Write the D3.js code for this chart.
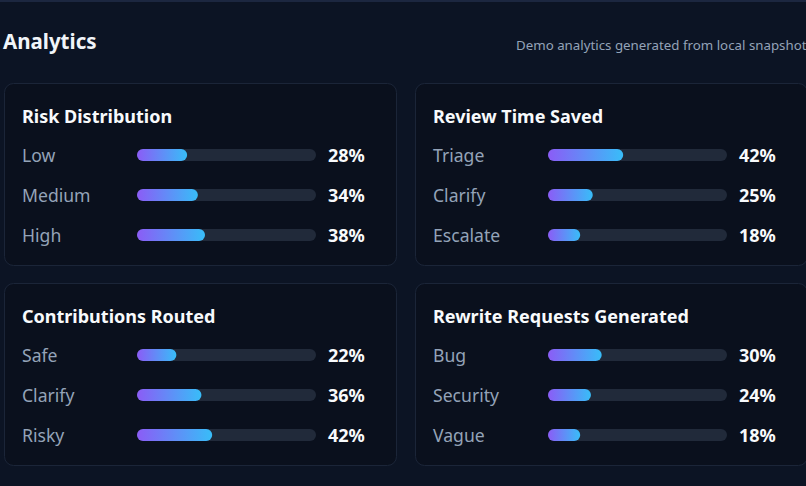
<!DOCTYPE html>
<html>
<head>
<meta charset="utf-8">
<script src="https://cdn.jsdelivr.net/npm/d3@7"></script>
<style>
  html, body { margin: 0; padding: 0; background: #0c1424; overflow: hidden; }
  svg { display: block; font-family: "Noto Sans", "Open Sans", sans-serif; }
</style>
</head>
<body>
<div id="chart-container"></div>
<script>
// Panel titles and rows
const panelTitles = ["Risk Distribution", "Review Time Saved", "Contributions Routed", "Rewrite Requests Generated"];
const riskLabels = ["Low", "Medium", "High"];
const riskValues = [28, 34, 38];
const reviewLabels = ["Triage", "Clarify", "Escalate"];
const reviewValues = [42, 25, 18];
const routedLabels = ["Safe", "Clarify", "Risky"];
const routedValues = [22, 36, 42];
const rewriteLabels = ["Bug", "Security", "Vague"];
const rewriteValues = [30, 24, 18];

const width = 806;
const height = 486;

const svg = d3.select("#chart-container")
  .append("svg")
  .attr("width", width)
  .attr("height", height);

// gradient for the bars
const grad = svg.append("defs").append("linearGradient")
  .attr("id", "barGrad")
  .attr("x1", "0%").attr("x2", "100%")
  .attr("y1", "0%").attr("y2", "0%");
grad.append("stop").attr("offset", "0%").attr("stop-color", "#8b5cf6");
grad.append("stop").attr("offset", "100%").attr("stop-color", "#38bdf8");

// top border line
svg.append("rect")
  .attr("x", 0).attr("y", 0)
  .attr("width", width).attr("height", 2)
  .attr("fill", "#1c2740");

// header
svg.append("text")
  .attr("x", 3).attr("y", 49)
  .attr("fill", "#f1f5f9")
  .style("font-size", "20.5px")
  .style("font-weight", 700)
  .text("Analytics");

svg.append("text")
  .attr("x", 516).attr("y", 50)
  .attr("fill", "#94a3b8")
  .style("font-size", "13.3px")
  .text("Demo analytics generated from local snapshot");

const panels = [
  { title: panelTitles[0], labels: riskLabels, values: riskValues, x: 4, y: 83 },
  { title: panelTitles[1], labels: reviewLabels, values: reviewValues, x: 415, y: 83 },
  { title: panelTitles[2], labels: routedLabels, values: routedValues, x: 4, y: 283 },
  { title: panelTitles[3], labels: rewriteLabels, values: rewriteValues, x: 415, y: 283 }
];

const cardW = 392;
const cardH = 182;

// bar scale: 0-100% across the track
const x = d3.scaleLinear().domain([0, 100]).range([0, 179]);

panels.forEach(p => {
  const g = svg.append("g")
    .attr("transform", `translate(${p.x}, ${p.y})`);

  g.append("rect")
    .attr("x", 0.5).attr("y", 0.5)
    .attr("width", cardW).attr("height", cardH)
    .attr("rx", 9)
    .attr("fill", "#0a101d")
    .attr("stroke", "#1b2538");

  g.append("text")
    .attr("x", 18).attr("y", 40)
    .attr("fill", "#f8fafc")
    .style("font-size", "18px")
    .style("font-weight", 700)
    .text(p.title);

  const y = d3.scaleBand()
    .domain(p.labels)
    .range([52, 172]);

  const rows = g.selectAll(".row")
    .data(p.labels.map((l, i) => ({ label: l, value: p.values[i] })))
    .join("g")
    .attr("class", "row")
    .attr("transform", d => `translate(0, ${y(d.label) + y.bandwidth() / 2})`);

  rows.append("text")
    .attr("x", 18).attr("y", 7)
    .attr("fill", "#94a3b8")
    .style("font-size", "17.6px")
    .text(d => d.label);

  rows.append("rect")
    .attr("x", 133).attr("y", -6)
    .attr("width", x(100)).attr("height", 12)
    .attr("rx", 6)
    .attr("fill", "#212a3a");

  rows.append("rect")
    .attr("x", 133).attr("y", -6)
    .attr("width", d => x(d.value)).attr("height", 12)
    .attr("rx", 6)
    .attr("fill", "url(#barGrad)");

  rows.append("text")
    .attr("x", 324).attr("y", 7)
    .attr("fill", "#f8fafc")
    .style("font-size", "18px")
    .style("font-weight", 700)
    .text(d => `${d.value}%`);
});
</script>
</body>
</html>
